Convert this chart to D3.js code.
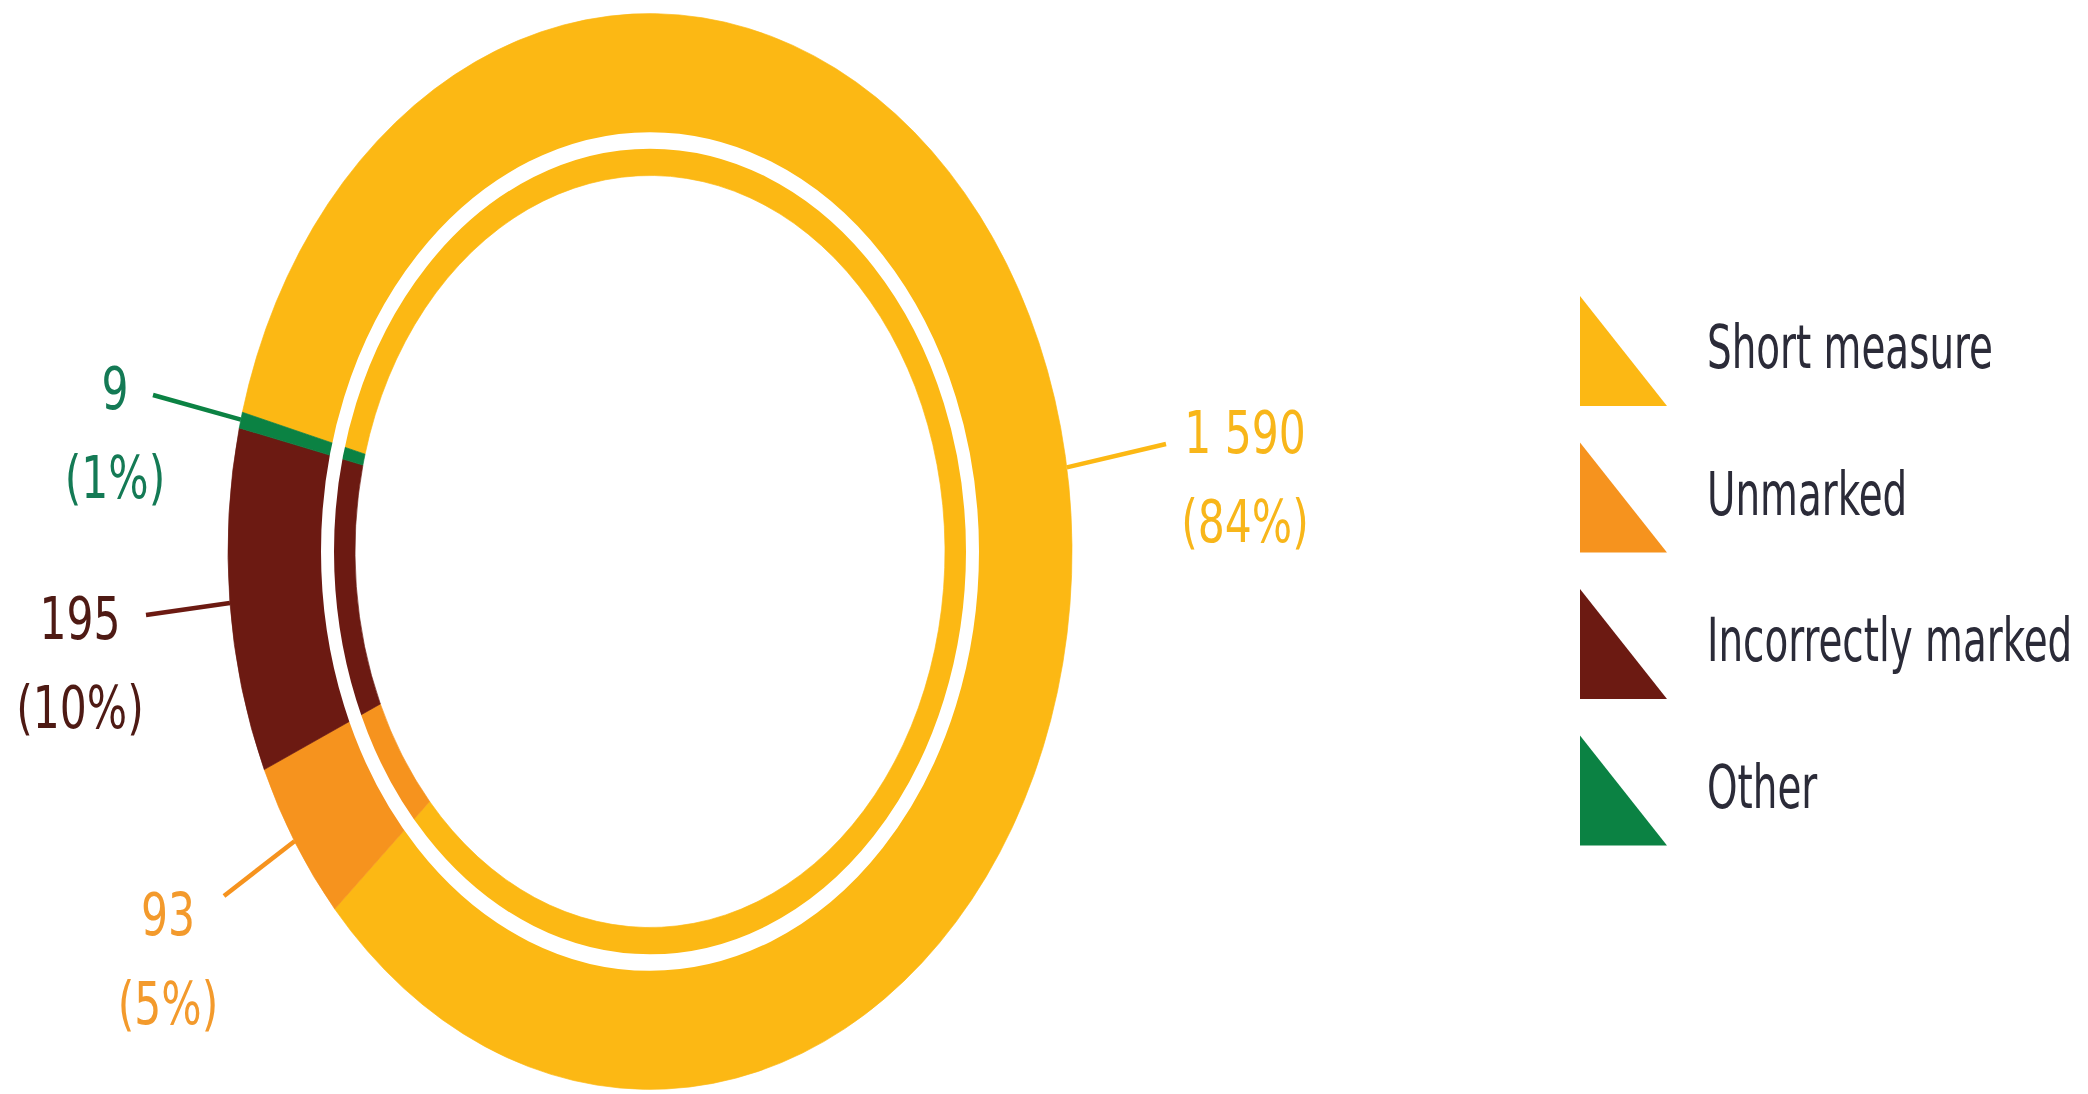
<html>
<head>
    <meta charset="utf-8">
    <script src="https://d3js.org/d3.v7.min.js"></script>
    <title>Complaints by type</title>
    <style>
        body { margin: 0; background: #ffffff; }
        text { font-family: "DejaVu Sans Condensed", "Liberation Sans", sans-serif; }
    </style>
</head>
<body>
<svg id="donut" width="2088" height="1094"></svg>
<script>
    // data
    const categories = ["Short measure", "Unmarked", "Incorrectly marked", "Other"];
    const counts = [1590, 93, 195, 9];
    const percents = [84, 5, 10, 1];
    const colors = ["#fcb814", "#f6931e", "#6c1a12", "#0b8243"];
    const labelColors = ["#f8b61a", "#f39a2c", "#4e1a14", "#147a55"];

    // label layout: angle (deg) where the leader meets the ring, leader end, text anchor
    const leaderAngles = [81, 237.4, 264.5, 284.2];
    const leaderEnds = [[1166, 444], [224, 896], [146, 615], [153, 395]];
    const labelPos = [[1245, 453], [168, 935], [80, 639], [115, 409]];

    const svg = d3.select("#donut");
    const cx = 650, cy = 551.5;
    const squash = 1.2746;          // ring is drawn as an upright ellipse
    const rOuter = 422, rInner = 295;
    const gapR = 322.5, gapW = 13;

    const ring = svg.append("g")
        .attr("transform", "translate(" + cx + "," + cy + ") scale(1," + squash + ")");

    const start = -75 * Math.PI / 180;
    const pie = d3.pie().sort(null).value(d => d)
        .startAngle(start).endAngle(start + 2 * Math.PI);
    const arcs = pie(counts);
    const arc = d3.arc().innerRadius(rInner).outerRadius(rOuter);

    ring.selectAll("path.slice")
        .data(arcs)
        .join("path")
        .attr("class", "slice")
        .attr("d", arc)
        .attr("fill", (d, i) => colors[i])
        .attr("stroke", (d, i) => colors[i])
        .attr("stroke-width", 0.6);

    // white line splitting the ring
    ring.append("circle")
        .attr("r", gapR)
        .attr("fill", "none")
        .attr("stroke", "white")
        .attr("stroke-width", gapW);

    // leaders
    const onRing = function(deg) {
        const a = deg * Math.PI / 180;
        return [cx + rOuter * Math.sin(a), cy - rOuter * Math.cos(a) * squash];
    };

    svg.selectAll("line.leader")
        .data(categories)
        .join("line")
        .attr("class", "leader")
        .attr("x1", (d, i) => onRing(leaderAngles[i])[0])
        .attr("y1", (d, i) => onRing(leaderAngles[i])[1])
        .attr("x2", (d, i) => leaderEnds[i][0])
        .attr("y2", (d, i) => leaderEnds[i][1])
        .attr("stroke", (d, i) => colors[i])
        .attr("stroke-width", 4.5);

    const fmt = d3.formatLocale({ decimal: ".", thousands: " ", grouping: [3], currency: ["", ""] }).format(",d");

    const labels = svg.selectAll("g.label")
        .data(categories)
        .join("g")
        .attr("class", "label")
        .attr("transform", (d, i) => "translate(" + labelPos[i][0] + "," + labelPos[i][1] + ")")
        .attr("fill", (d, i) => labelColors[i])
        .attr("font-size", 59)
        .attr("text-anchor", "middle");

    labels.append("text")
        .attr("transform", "scale(0.8,1)")
        .text((d, i) => fmt(counts[i]));
    labels.append("text")
        .attr("transform", "translate(0,89) scale(0.8,1)")
        .text((d, i) => "(" + percents[i] + "%)");

    // legend
    const legendY = d3.scaleBand().domain(categories).range([296, 882]).paddingInner(0);
    const legend = svg.selectAll("g.legend")
        .data(categories)
        .join("g")
        .attr("class", "legend")
        .attr("transform", d => "translate(1580," + legendY(d) + ")");

    legend.append("path")
        .attr("d", "M0,0 L0,110 L87,110 Z")
        .attr("fill", (d, i) => colors[i]);

    legend.append("text")
        .attr("transform", "translate(127,72) scale(0.72,1)")
        .attr("font-size", 60)
        .attr("fill", "#2b2b38")
        .text(d => d);
</script>
</body>
</html>
